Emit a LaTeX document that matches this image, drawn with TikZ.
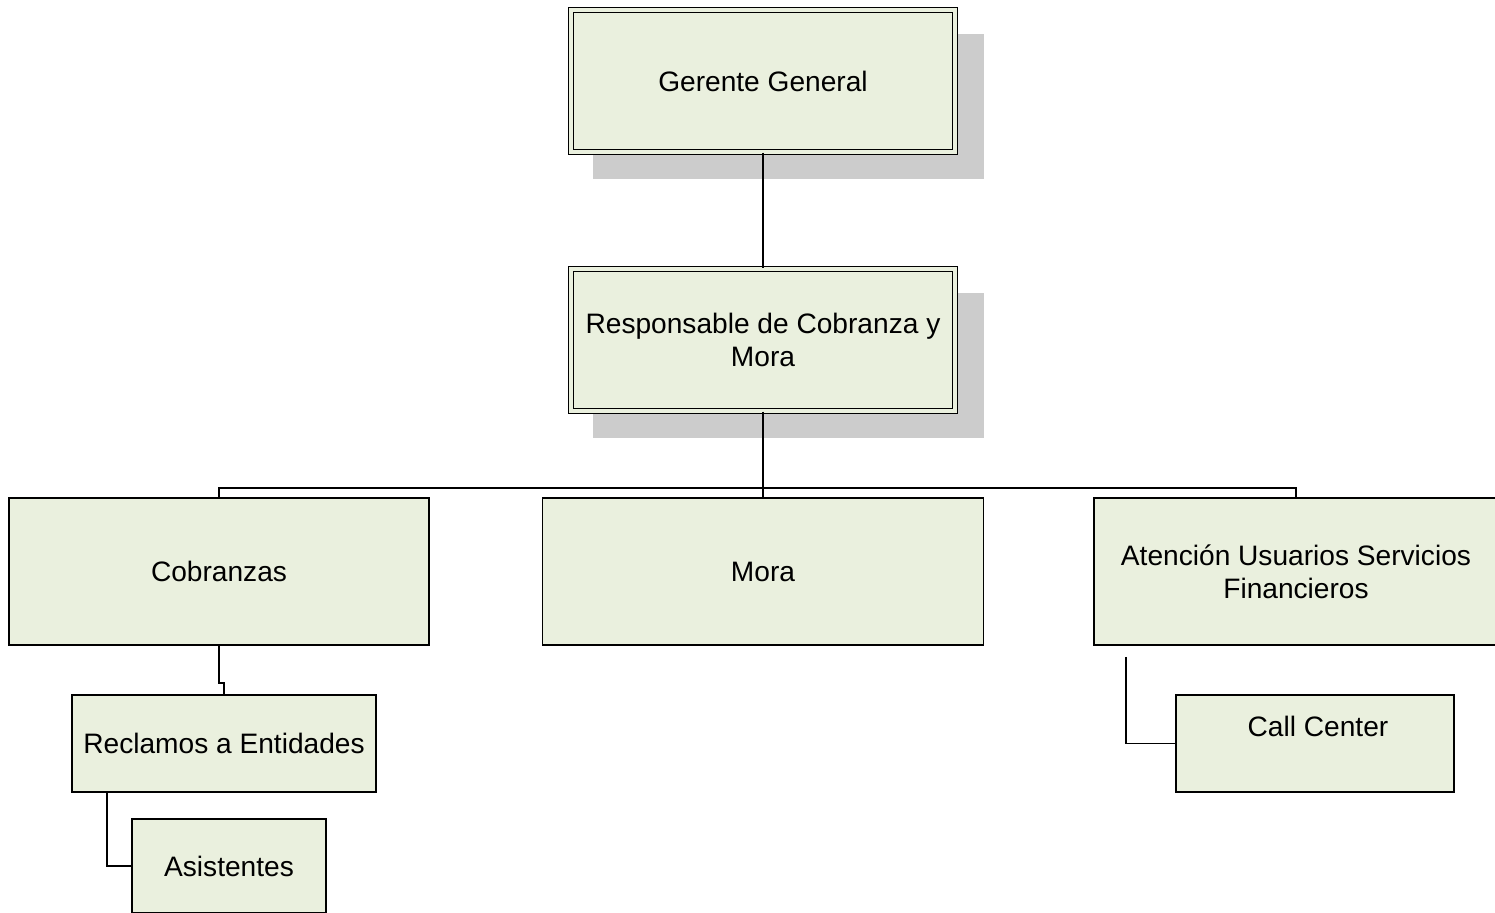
\documentclass[tikz,border=0pt]{standalone}
\usepackage{fontspec}
\setmainfont{Liberation Sans}
\usetikzlibrary{shadows}
\definecolor{boxfill}{HTML}{EAF0DE}
\definecolor{shadowgray}{HTML}{CCCCCC}
\begin{document}
\begin{tikzpicture}[
    box/.style={draw, line width=0.9pt, fill=boxfill, inner sep=0pt, font=\fontsize{16}{18.7}\selectfont, align=center},
    dbox/.style={box, line width=0.7pt, double=boxfill, double distance=0.08cm,
        general shadow={fill=shadowgray, shadow xshift=0.5cm, shadow yshift=-0.5cm, shadow scale=1.02}},
    link/.style={line width=1pt}]
            \useasboundingbox (0,0) rectangle (29.9,-18.24);
            \node[dbox, minimum width=7.68cm, minimum height=2.84cm] (gg) at (15.26,-1.62){Gerente General};
            \node[dbox, minimum width=7.68cm, minimum height=2.84cm] (rc) at (15.26,-6.80){Responsable de Cobranza y\\Mora};
            \node[box, minimum width=8.4cm, minimum height=2.94cm] (cob) at (4.38,-11.43){Cobranzas};
            \node[box, minimum width=8.82cm, minimum height=2.94cm] (mora) at (15.26,-11.43){Mora};
            \node[box, minimum width=8.08cm, minimum height=2.94cm] (aten) at (25.92,-11.43){Atención Usuarios Servicios\\Financieros};
            \node[box, minimum width=6.08cm, minimum height=1.94cm] (rec) at (4.48,-14.87){Reclamos a Entidades};
            \node[box, minimum width=3.88cm, minimum height=1.88cm] (asis) at (4.58,-17.32){Asistentes};
            \node[box, minimum width=5.56cm, minimum height=1.94cm] (call) at (26.30,-14.87){};
            \node[font=\fontsize{16}{18.7}\selectfont] (calltxt) at (26.36,-14.52){Call Center};
            \coordinate (bus) at (15.26,-9.76);
            \coordinate (cctop) at ([xshift=0.66cm, yshift=-0.22cm]aten.south west);
            \draw[link] (gg.south)--(rc.north);
            \draw[link] (rc.south)--(mora.north);
            \draw[link] (cob.north)--(cob.north |- bus)--(aten.north |- bus)--(aten.north);
            \draw[link] (cob.south)--++(0,-0.74)-|(rec.north);
            \draw[link] ([xshift=0.72cm]rec.south west)|-(asis.west);
            \draw[link] (cctop)|-(call.west);
        \end{tikzpicture}
\end{document}
